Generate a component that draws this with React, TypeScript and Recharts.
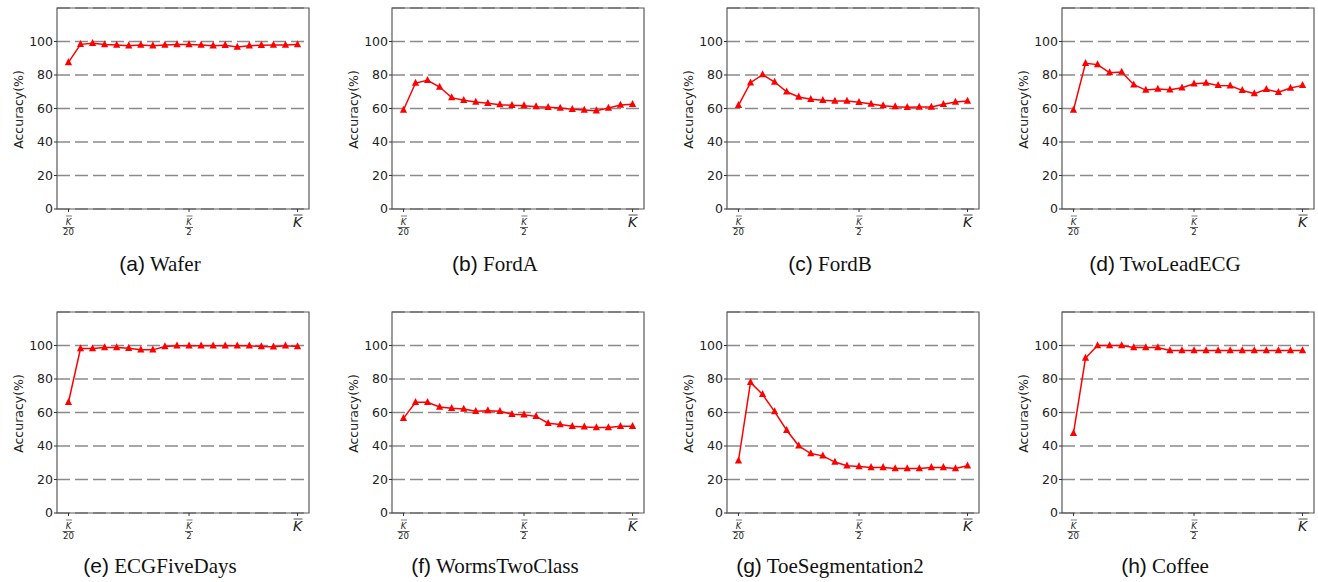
import React from "react";
import { LineChart, Line, XAxis, YAxis, CartesianGrid, ReferenceArea } from "recharts";

// K sweep positions (K/20 ... K), 20 settings
const kIndex = [0, 1, 2, 3, 4, 5, 6, 7, 8, 9, 10, 11, 12, 13, 14, 15, 16, 17, 18, 19];
const xTicks = [0, 10, 19];
const yTicks = [0, 20, 40, 60, 80, 100];

const waferAcc = [87.5, 98.3, 98.9, 98.2, 97.9, 97.5, 97.9, 97.5, 97.9, 98.2, 98.2, 97.9, 97.5, 97.8, 96.7, 97.5, 97.8, 97.9, 97.9, 98.2];
const fordAAcc = [59.1, 75.2, 76.8, 72.8, 66.5, 64.9, 63.9, 63.1, 62.3, 61.9, 61.7, 61.1, 60.7, 60.3, 59.5, 59.1, 58.7, 60.3, 62.1, 62.5];
const fordBAcc = [61.9, 75.4, 80.2, 75.8, 70.0, 66.9, 65.5, 64.9, 64.5, 64.5, 63.7, 62.7, 61.7, 61.1, 60.7, 60.9, 60.9, 62.5, 63.9, 64.5];
const twoLeadAcc = [59.1, 87.0, 86.2, 81.4, 81.8, 74.2, 71.0, 71.6, 71.2, 72.4, 74.8, 75.2, 73.8, 73.6, 70.8, 68.9, 71.4, 69.7, 72.2, 73.8];
const ecgFiveAcc = [66.1, 98.2, 98.2, 98.8, 98.8, 98.4, 97.4, 97.4, 99.4, 99.8, 99.8, 99.8, 99.8, 99.8, 99.8, 99.8, 99.4, 99.2, 99.8, 99.4];
const wormsAcc = [56.5, 66.1, 66.1, 63.3, 62.5, 62.1, 60.7, 61.1, 60.7, 58.9, 58.7, 57.7, 53.6, 52.8, 51.8, 51.4, 51.0, 51.0, 51.8, 51.8];
const toeSegAcc = [31.2, 78.0, 70.8, 60.5, 49.4, 40.1, 35.5, 34.1, 30.4, 28.2, 27.8, 27.2, 27.2, 26.6, 26.6, 26.6, 27.2, 27.2, 26.6, 28.2];
const coffeeAcc = [47.6, 92.5, 100, 100, 100, 98.8, 98.8, 98.8, 97.0, 97.0, 97.0, 97.0, 97.0, 97.0, 97.0, 97.0, 97.0, 97.0, 97.0, 97.0];

const panels = [
  { tag: "(a)", name: "Wafer", values: waferAcc },
  { tag: "(b)", name: "FordA", values: fordAAcc },
  { tag: "(c)", name: "FordB", values: fordBAcc },
  { tag: "(d)", name: "TwoLeadECG", values: twoLeadAcc },
  { tag: "(e)", name: "ECGFiveDays", values: ecgFiveAcc },
  { tag: "(f)", name: "WormsTwoClass", values: wormsAcc },
  { tag: "(g)", name: "ToeSegmentation2", values: toeSegAcc },
  { tag: "(h)", name: "Coffee", values: coffeeAcc },
];

const frameLeft = [57, 392, 727, 1062];
const frameTop = [8, 312];
const captionMid = [264, 566];
const FW = 252;
const FH = 201;
const SANS = "'DejaVu Sans', sans-serif";

const Triangle = (props: any) => {
  const { cx, cy } = props;
  if (cx == null || cy == null) return null;
  const s = 3.6;
  return (
    <polygon
      points={`${cx},${cy - s * 1.2} ${cx - s},${cy + s * 0.75} ${cx + s},${cy + s * 0.75}`}
      fill="#ff0000"
      stroke="none"
    />
  );
};

const KTick = (props: any) => {
  const { x, y, payload } = props;
  const b = y - 5; // axis line
  const col = "#222";
  if (payload.value === 19) {
    return (
      <g>
        <line x1={x - 4} x2={x + 5} y1={b + 6} y2={b + 6} stroke={col} strokeWidth={0.8} />
        <text x={x} y={b + 18} fontSize={14} fontStyle="italic" fontFamily={SANS} textAnchor="middle" fill={col}>
          K
        </text>
      </g>
    );
  }
  const den = payload.value === 0 ? "20" : "2";
  const half = payload.value === 0 ? 6 : 4;
  return (
    <g>
      <line x1={x - 2.5} x2={x + 3.5} y1={b + 7} y2={b + 7} stroke={col} strokeWidth={0.6} />
      <text x={x} y={b + 15.5} fontSize={8.5} fontStyle="italic" fontFamily={SANS} textAnchor="middle" fill={col}>
        K
      </text>
      <line x1={x - half} x2={x + half} y1={b + 18.5} y2={b + 18.5} stroke={col} strokeWidth={0.7} />
      <text x={x} y={b + 26} fontSize={8.5} fontFamily={SANS} textAnchor="middle" fill={col}>
        {den}
      </text>
    </g>
  );
};

const AccLabel = (props: any) => {
  const vb = props.viewBox || {};
  const cx = vb.x + 1;
  const cy = vb.y + vb.height / 2 + 1;
  return (
    <text
      x={cx}
      y={cy}
      transform={`rotate(-90, ${cx}, ${cy})`}
      textAnchor="middle"
      dominantBaseline="central"
      fontSize={12.5}
      fontFamily={SANS}
      fill="#222"
    >
      Accuracy(%)
    </text>
  );
};

function Panel({ values, left, top }: { values: number[]; left: number; top: number }) {
  const data = kIndex.map((k, i) => ({ k, acc: values[i] }));
  const ml = 20;
  const mt = 8;
  return (
    <div style={{ position: "absolute", left: left - ml - 40, top: top - mt }}>
      <LineChart
        width={FW + ml + 40 + 12}
        height={FH + mt + 32}
        data={data}
        margin={{ top: mt, right: 12, left: ml, bottom: 2 }}
      >
        <CartesianGrid vertical={false} stroke="#8a8a8a" strokeWidth={1.4} strokeDasharray="13 5" />
        <XAxis
          dataKey="k"
          type="number"
          domain={[-0.95, 19.95]}
          ticks={xTicks}
          height={30}
          tickSize={3}
          tickMargin={2}
          tick={<KTick />}
          axisLine={false}
          tickLine={{ stroke: "#333" }}
          interval={0}
        />
        <YAxis
          domain={[0, 120]}
          ticks={yTicks}
          width={40}
          tickSize={3}
          tickMargin={1}
          axisLine={false}
          tickLine={{ stroke: "#333" }}
          tick={{ fontSize: 12.5, fill: "#222", fontFamily: SANS }}
          label={{ content: <AccLabel /> }}
        />
        <ReferenceArea x1={-0.95} x2={19.95} y1={0} y2={120} fill="none" stroke="#5a5a5a" strokeWidth={1.2} />
        <Line
          dataKey="acc"
          stroke="#ff0000"
          strokeWidth={1.5}
          dot={<Triangle />}
          activeDot={false}
          isAnimationActive={false}
        />
      </LineChart>
    </div>
  );
}

export default function App() {
  return (
    <div style={{ position: "relative", width: 1318, height: 582, background: "#fff", overflow: "hidden" }}>
      <style>{`body{margin:0}`}</style>
      {panels.map((p, i) => {
        const col = i % 4;
        const row = Math.floor(i / 4);
        const left = frameLeft[col];
        const center = left + FW / 2 - 23;
        return (
          <React.Fragment key={p.name}>
            <Panel values={p.values} left={left} top={frameTop[row]} />
            <div
              style={{
                position: "absolute",
                left: center - 165,
                width: 330,
                top: captionMid[row] - 13,
                height: 26,
                lineHeight: "26px",
                textAlign: "center",
                fontSize: 21,
                color: "#111",
                whiteSpace: "nowrap",
              }}
            >
              <span style={{ fontFamily: "'Liberation Sans', Arial, sans-serif" }}>{p.tag}</span>
              <span style={{ fontFamily: "'Liberation Serif', 'Times New Roman', serif" }}> {p.name}</span>
            </div>
          </React.Fragment>
        );
      })}
    </div>
  );
}
